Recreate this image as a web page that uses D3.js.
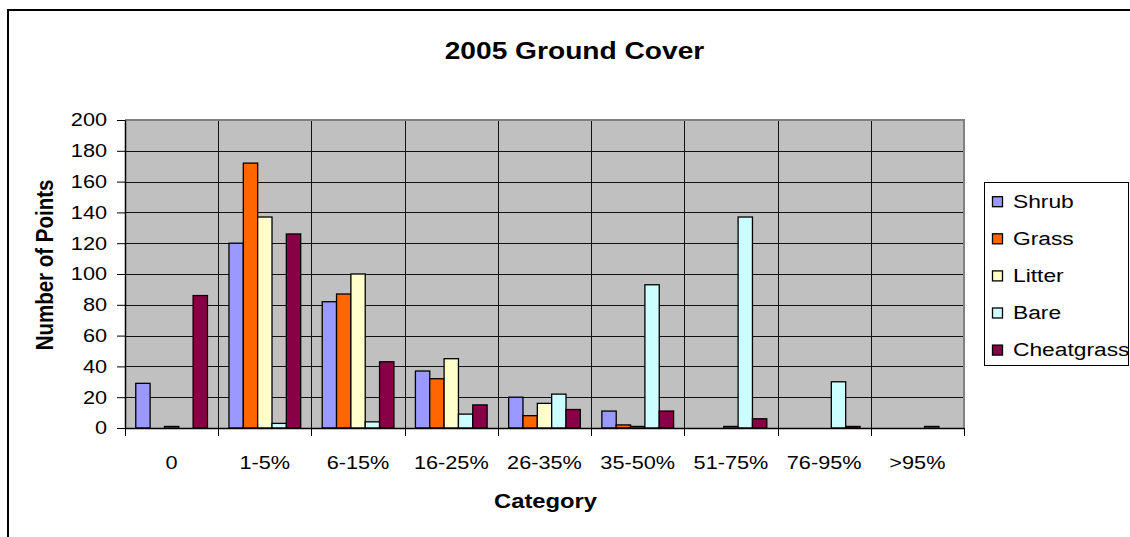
<!DOCTYPE html>
<html>
<head>
<meta charset="utf-8">
<script src="https://cdn.jsdelivr.net/npm/d3@7"></script>
<style>
  html, body { margin: 0; padding: 0; background: #ffffff; }
  svg { display: block; font-family: "Liberation Sans", Arial, sans-serif; }
</style>
</head>
<body>
<svg id="chart" width="1130" height="537"></svg>
<script>
// Ground cover point counts per cover class
const categories = ["0", "1-5%", "6-15%", "16-25%", "26-35%", "35-50%", "51-75%", "76-95%", ">95%"];
const seriesNames = ["Shrub", "Grass", "Litter", "Bare", "Cheatgrass"];
const shrub      = [29, 120, 82, 37, 20, 11, 0, 0, 0];
const grass      = [0, 172, 87, 32, 8, 2, 0, 0, 0];
const litter     = [1, 137, 100, 45, 16, 1, 1, 0, 0];
const bare       = [0, 3, 4, 9, 22, 93, 137, 30, 1];
const cheatgrass = [86, 126, 43, 15, 12, 11, 6, 1, 0];
const yTicks     = [0, 20, 40, 60, 80, 100, 120, 140, 160, 180, 200];
const colors     = ["#9999ff", "#ff6600", "#ffffcc", "#ccffff", "#880045"];

const seriesValues = [shrub, grass, litter, bare, cheatgrass];

const svg = d3.select("#chart");
const W = 1130, H = 537;
const plot = { left: 125, right: 964, top: 120, bottom: 428 };

// chart frame
svg.append("rect")
  .attr("x", 8).attr("y", 10)
  .attr("width", W + 10).attr("height", H + 10)
  .attr("fill", "#ffffff").attr("stroke", "#000").attr("stroke-width", 2);

const x = d3.scaleBand().domain(categories).range([plot.left, plot.right]).paddingInner(0).paddingOuter(0);
const xs = d3.scaleBand().domain(seriesNames).range([0, x.bandwidth()]).paddingInner(0).paddingOuter(0.75);
const y = d3.scaleLinear().domain([0, 200]).range([plot.bottom, plot.top]);

// plot background
svg.append("rect")
  .attr("x", plot.left).attr("y", plot.top)
  .attr("width", plot.right - plot.left).attr("height", plot.bottom - plot.top)
  .attr("fill", "#c0c0c0");

// horizontal gridlines
svg.append("g").selectAll("line")
  .data(yTicks.filter(d => d > 0 && d < 200))
  .join("line")
  .attr("x1", plot.left).attr("x2", plot.right)
  .attr("y1", d => Math.round(y(d)) + 0.5).attr("y2", d => Math.round(y(d)) + 0.5)
  .attr("stroke", "#111").attr("stroke-width", 1);

// vertical gridlines at category boundaries
svg.append("g").selectAll("line")
  .data(categories.slice(1))
  .join("line")
  .attr("x1", d => Math.round(x(d)) + 0.5).attr("x2", d => Math.round(x(d)) + 0.5)
  .attr("y1", plot.top).attr("y2", plot.bottom)
  .attr("stroke", "#111").attr("stroke-width", 1);

// plot border (top / right)
svg.append("path")
  .attr("d", `M${plot.left},${plot.top}H${plot.right}V${plot.bottom}`)
  .attr("fill", "none").attr("stroke", "#808080").attr("stroke-width", 2);

// bars
const groups = svg.append("g").selectAll("g")
  .data(seriesNames.map((name, i) => ({ name, values: seriesValues[i], color: colors[i] })))
  .join("g")
  .attr("fill", d => d.color);

groups.selectAll("rect")
  .data(d => d.values.map((v, j) => ({ name: d.name, cat: categories[j], v })))
  .join("rect")
  .filter(d => d.v > 0)
  .attr("x", d => x(d.cat) + xs(d.name))
  .attr("width", xs.bandwidth())
  .attr("y", d => y(d.v))
  .attr("height", d => y(0) - y(d.v))
  .attr("stroke", "#000").attr("stroke-width", 1.3);

// y axis
const yAxis = svg.append("g")
  .attr("transform", `translate(${plot.left},0)`)
  .call(d3.axisLeft(y).tickValues(yTicks).tickSize(8).tickPadding(10).tickSizeOuter(0));
yAxis.select(".domain").attr("stroke", "#000").attr("stroke-width", 1.5);
yAxis.selectAll(".tick line").attr("stroke", "#000");
const tickSX = 1.24;
yAxis.selectAll(".tick text")
  .attr("font-size", 17.5)
  .attr("fill", "#000")
  .attr("font-family", "Liberation Sans, Arial, sans-serif")
  .attr("x", -18 / tickSX)
  .attr("dy", "0.34em")
  .attr("transform", `scale(${tickSX},1)`);

// x axis: line, boundary ticks, centred labels
const xAxis = svg.append("g");
xAxis.append("line")
  .attr("x1", plot.left).attr("x2", plot.right)
  .attr("y1", plot.bottom + 0.5).attr("y2", plot.bottom + 0.5)
  .attr("stroke", "#000").attr("stroke-width", 1.5);
xAxis.selectAll("line.btick")
  .data(categories.concat(["end"]))
  .join("line")
  .attr("class", "btick")
  .attr("x1", d => Math.round(d === "end" ? plot.right : x(d)) + 0.5)
  .attr("x2", d => Math.round(d === "end" ? plot.right : x(d)) + 0.5)
  .attr("y1", plot.bottom).attr("y2", plot.bottom + 8)
  .attr("stroke", "#000");
xAxis.selectAll("text")
  .data(categories)
  .join("text")
  .attr("transform", d => `translate(${x(d) + x.bandwidth() / 2},469) scale(${tickSX},1)`)
  .attr("text-anchor", "middle")
  .attr("font-size", 17.5)
  .text(d => d);

// titles
svg.append("text")
  .attr("transform", "translate(574.5,59) scale(1.14,1)")
  .attr("text-anchor", "middle")
  .attr("font-size", 24.7).attr("font-weight", "bold")
  .text("2005 Ground Cover");

svg.append("text")
  .attr("transform", `translate(${(plot.left + plot.right) / 2 + 1},508) scale(1.16,1)`)
  .attr("text-anchor", "middle")
  .attr("font-size", 20.5).attr("font-weight", "bold")
  .text("Category");

svg.append("text")
  .attr("transform", `translate(53,${(plot.top + plot.bottom) / 2 - 9}) rotate(-90) scale(1,1.16)`)
  .attr("text-anchor", "middle")
  .attr("font-size", 20.5).attr("font-weight", "bold")
  .text("Number of Points");

// legend
const legend = svg.append("g");
legend.append("rect")
  .attr("x", 984.5).attr("y", 182.5)
  .attr("width", 144).attr("height", 183)
  .attr("fill", "#fff").attr("stroke", "#000").attr("stroke-width", 1);

const items = legend.selectAll("g.item")
  .data(seriesNames)
  .join("g")
  .attr("class", "item")
  .attr("transform", (d, i) => `translate(992,${201.7 + i * 37.1})`);
items.append("rect")
  .attr("x", 0.5).attr("y", -5)
  .attr("width", 10).attr("height", 10)
  .attr("fill", (d, i) => colors[i])
  .attr("stroke", "#000").attr("stroke-width", 1.3);
items.append("text")
  .attr("transform", "translate(21,6) scale(1.2,1)")
  .attr("font-size", 19)
  .text(d => d);
</script>
</body>
</html>
